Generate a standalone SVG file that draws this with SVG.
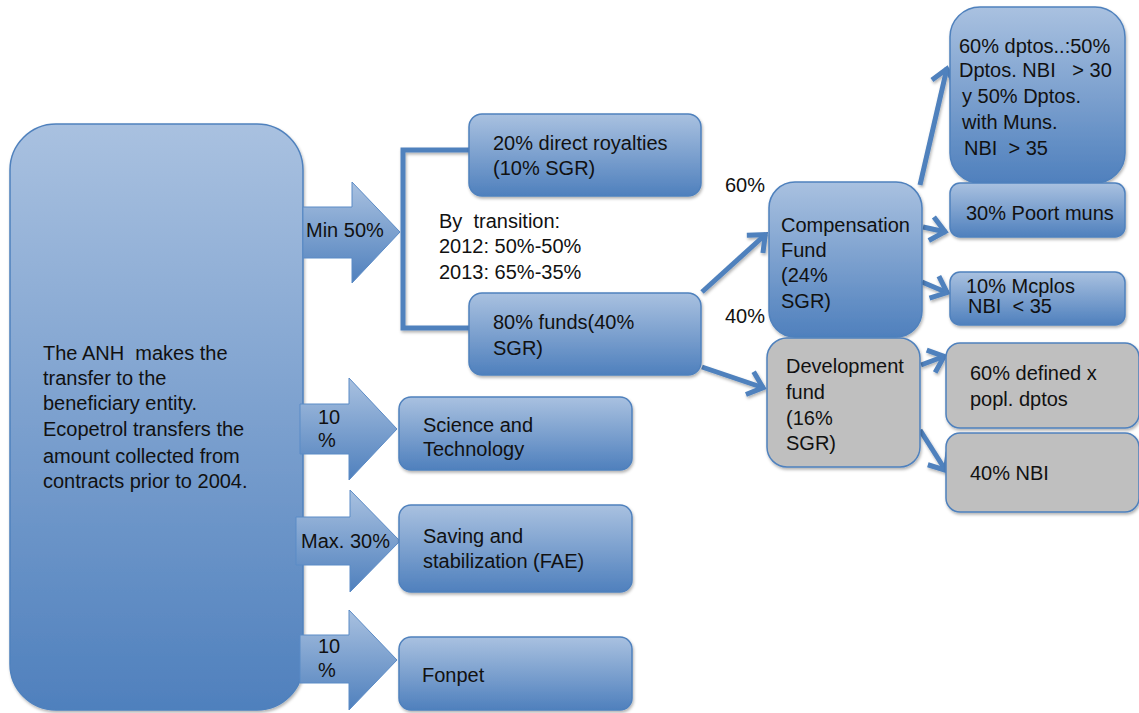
<svg xmlns="http://www.w3.org/2000/svg" width="1139" height="713" viewBox="0 0 1139 713">
<defs>
<linearGradient id="gb" x1="0" y1="0" x2="0" y2="1">
<stop offset="0" stop-color="#a9c1e0"/>
<stop offset="1" stop-color="#4f80bd"/>
</linearGradient>
<filter id="sh" x="-10%" y="-10%" width="130%" height="130%">
<feDropShadow dx="1" dy="2" stdDeviation="1.5" flood-color="#000" flood-opacity="0.3"/>
</filter>
<filter id="shc" filterUnits="userSpaceOnUse" x="0" y="0" width="1139" height="713">
<feDropShadow dx="1" dy="2" stdDeviation="1.5" flood-color="#000" flood-opacity="0.3"/>
</filter>
<marker id="ah" viewBox="0 0 28 32" refX="20" refY="16" markerWidth="28" markerHeight="32" markerUnits="userSpaceOnUse" orient="auto">
<path d="M5,4 L19,16 L5,28" fill="none" stroke="#4f81bd" stroke-width="5"/>
</marker>
<style>
.n{fill:url(#gb);stroke:#4f81bd;stroke-width:1.5;filter:url(#sh)}
.g{fill:#bfbfbf;stroke:#4f81bd;stroke-width:1.5;filter:url(#sh)}
.ar{fill:url(#gb);stroke:#5b8bc6;stroke-width:1}
.t{font-family:"Liberation Sans",Arial,sans-serif;font-size:20px;fill:#111}
.c{fill:none;stroke:#4f81bd;stroke-width:5}
</style>
</defs>

<g id="connectors" filter="url(#shc)">
<path class="c" d="M470,150 H403 V328 H470"/>
<line class="c" x1="702" y1="292" x2="766" y2="234" marker-end="url(#ah)"/>
<line class="c" x1="702" y1="367" x2="764" y2="388" marker-end="url(#ah)"/>
<line class="c" x1="920" y1="185" x2="947" y2="68" marker-end="url(#ah)"/>
<line class="c" x1="923" y1="227" x2="946" y2="232" marker-end="url(#ah)"/>
<line class="c" x1="922" y1="282" x2="948" y2="293" marker-end="url(#ah)"/>
<line class="c" x1="921" y1="365" x2="945" y2="356" marker-end="url(#ah)"/>
<line class="c" x1="920" y1="430" x2="946" y2="471" marker-end="url(#ah)"/>
</g>

<g id="anh">
<rect class="n" x="10" y="124" width="293" height="586" rx="46"/>
<text class="t" x="43" y="360" xml:space="preserve">The ANH  makes the</text>
<text class="t" x="43" y="385">transfer to the</text>
<text class="t" x="43" y="410">beneficiary entity.</text>
<text class="t" x="43" y="436">Ecopetrol transfers the</text>
<text class="t" x="43" y="463">amount collected from</text>
<text class="t" x="43" y="488">contracts prior to 2004.</text>
</g>

<g id="arrow-min50">
<polygon class="ar" points="303,207 352,207 352,182 400,232 352,283 352,258 303,258"/>
<text class="t" x="306" y="237">Min 50%</text>
</g>
<g id="arrow-10a">
<polygon class="ar" points="300,404 349,404 349,378 397,429 349,480 349,454 300,454"/>
<text class="t" x="318" y="424">10</text>
<text class="t" x="318" y="447">%</text>
</g>
<g id="arrow-max30">
<polygon class="ar" points="296,517 350,517 350,490 400,541 350,592 350,565 296,565"/>
<text class="t" x="301" y="548">Max. 30%</text>
</g>
<g id="arrow-10b">
<polygon class="ar" points="300,635 349,635 349,610 397,660 349,710 349,683 300,683"/>
<text class="t" x="318" y="653">10</text>
<text class="t" x="318" y="677">%</text>
</g>

<g id="direct-royalties">
<rect class="n" x="469" y="114" width="232" height="82" rx="13"/>
<text class="t" x="493" y="150">20% direct royalties</text>
<text class="t" x="493" y="175">(10% SGR)</text>
</g>

<g id="transition">
<text class="t" x="439" y="228" xml:space="preserve">By  transition:</text>
<text class="t" x="439" y="253">2012: 50%-50%</text>
<text class="t" x="439" y="279">2013: 65%-35%</text>
</g>

<g id="funds">
<rect class="n" x="469" y="293" width="232" height="82" rx="13"/>
<text class="t" x="493" y="329">80% funds(40%</text>
<text class="t" x="493" y="355">SGR)</text>
</g>

<g id="science">
<rect class="n" x="399" y="397" width="233" height="73" rx="12"/>
<text class="t" x="423" y="432">Science and</text>
<text class="t" x="423" y="456">Technology</text>
</g>

<g id="saving">
<rect class="n" x="399" y="505" width="233" height="87" rx="12"/>
<text class="t" x="423" y="543">Saving and</text>
<text class="t" x="423" y="568">stabilization (FAE)</text>
</g>

<g id="fonpet">
<rect class="n" x="399" y="637" width="233" height="73" rx="12"/>
<text class="t" x="422" y="682">Fonpet</text>
</g>

<g id="pct-labels">
<text class="t" x="725" y="192">60%</text>
<text class="t" x="725" y="323">40%</text>
</g>

<g id="compensation">
<rect class="n" x="769" y="182" width="153" height="155" rx="26"/>
<text class="t" x="781" y="232">Compensation</text>
<text class="t" x="781" y="257">Fund</text>
<text class="t" x="781" y="282">(24%</text>
<text class="t" x="781" y="308">SGR)</text>
</g>

<g id="development">
<rect class="g" x="767" y="338" width="153" height="129" rx="20"/>
<text class="t" x="786" y="373">Development</text>
<text class="t" x="786" y="399">fund</text>
<text class="t" x="786" y="425">(16%</text>
<text class="t" x="786" y="450">SGR)</text>
</g>

<g id="dptos60">
<rect class="n" x="950" y="7" width="175" height="176" rx="30"/>
<text class="t" x="959" y="53">60% dptos..:50%</text>
<text class="t" x="959" y="77" xml:space="preserve">Dptos. NBI   &gt; 30</text>
<text class="t" x="962" y="103">y 50% Dptos.</text>
<text class="t" x="962" y="129">with Muns.</text>
<text class="t" x="964" y="155" xml:space="preserve">NBI  &gt; 35</text>
</g>

<g id="poort">
<rect class="n" x="950" y="183" width="175" height="54" rx="10"/>
<text class="t" x="966" y="220">30% Poort muns</text>
</g>

<g id="mcplos">
<rect class="n" x="950" y="272" width="175" height="53" rx="10"/>
<text class="t" x="966" y="293">10% Mcplos</text>
<text class="t" x="968" y="313" xml:space="preserve">NBI  &lt; 35</text>
</g>

<g id="defined60">
<rect class="g" x="946" y="343" width="193" height="85" rx="14"/>
<text class="t" x="970" y="380">60% defined x</text>
<text class="t" x="970" y="406">popl. dptos</text>
</g>

<g id="nbi40">
<rect class="g" x="946" y="433" width="193" height="79" rx="14"/>
<text class="t" x="970" y="480">40% NBI</text>
</g>
</svg>
